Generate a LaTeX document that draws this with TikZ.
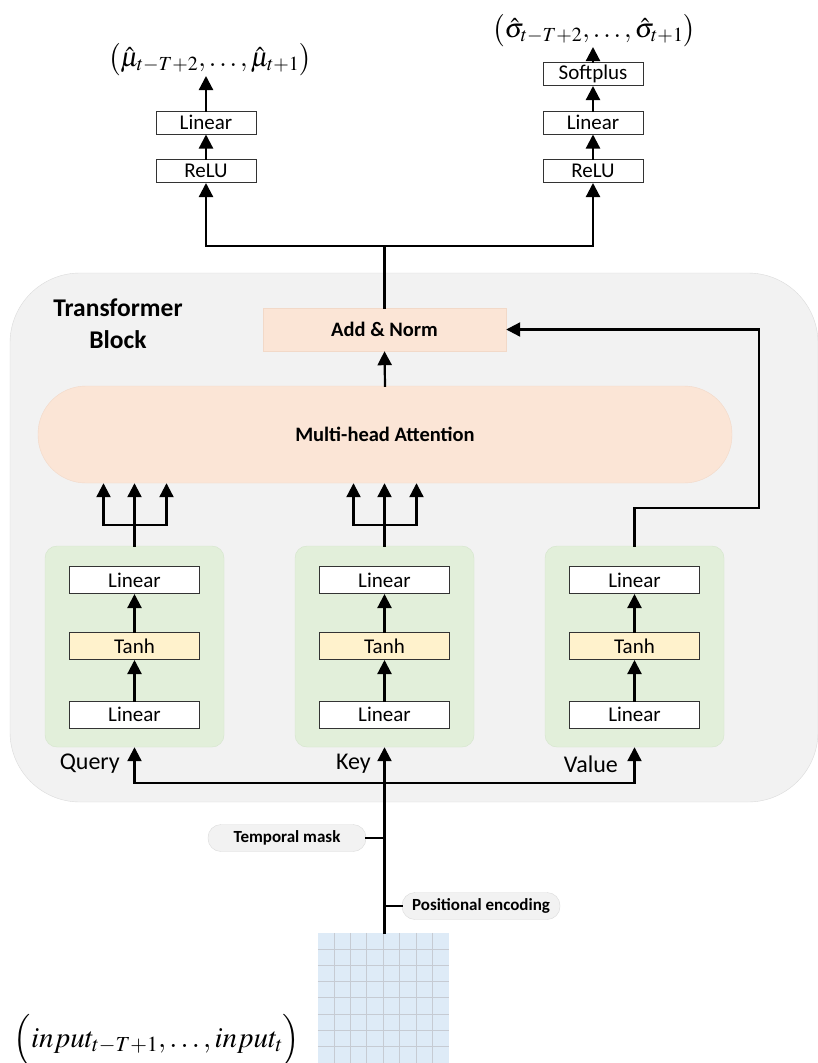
\documentclass[tikz,border=0pt]{standalone}
\usepackage{mathptmx}
\usepackage[no-math]{fontspec}
\setmainfont{Carlito}
\usepackage{xcolor}
\definecolor{peach}{HTML}{FBE5D6}
\definecolor{peachline}{HTML}{F2D9C8}
\definecolor{leaf}{HTML}{E2EFDA}
\definecolor{leafline}{HTML}{D4E5CB}
\definecolor{butter}{HTML}{FFF2CC}
\definecolor{cloud}{HTML}{F2F2F2}
\definecolor{cloudline}{HTML}{DADADA}
\definecolor{sky}{HTML}{DEEBF7}
\definecolor{skyline}{HTML}{C6CBD3}
\usetikzlibrary{arrows.meta,calc}
\tikzset{
    layer/.style = {
      draw = black!80,
      fill = white,
      line width = 1pt,
      minimum width = 130pt,
      minimum height = 27pt,
      inner sep = 0pt,
      font = \fontsize{21}{22}\selectfont
    },
    outlayer/.style = {
      layer,
      minimum width = 100pt,
      minimum height = 23pt
    },
    act/.style = {
      layer,
      fill = butter
    },
    branch/.style = {
      rounded corners = 12pt,
      fill = leaf,
      draw = leafline,
      minimum width = 179pt,
      minimum height = 201pt
    },
    block/.style = {
      rounded corners = 70pt,
      fill = cloud,
      draw = cloudline,
      minimum width = 808pt,
      minimum height = 529pt
    },
    attn/.style = {
      rounded corners = 48pt,
      fill = peach,
      draw = peachline,
      font = \bfseries\fontsize{20.5}{22}\selectfont
    },
    tag/.style = {
      rounded corners = 13pt,
      fill = cloud,
      draw = cloudline,
      minimum width = 158pt,
      minimum height = 27pt,
      font = \bfseries\fontsize{17}{18}\selectfont
    },
    side/.style = {
      font = \fontsize{24}{25}\selectfont,
      anchor = east,
      inner sep = 0pt
    },
    maths/.style = {
      font = \fontsize{27}{29}\selectfont,
      inner sep = 0pt
    },
    flow/.style = {
      line width = 2.2pt,
      line cap = rect
    },
    >={Triangle[width=14pt,length=14pt]}
}

\begin{document}
\begin{tikzpicture}[x=1pt, y=-1pt]
  \useasboundingbox (0,0) rectangle (818,1063);

  % transformer block background
  \node[block] (blk) at (414,537.5) {};
  \node[align=center, font=\bfseries\fontsize{25.5}{32}\selectfont] (blkname) at (118,324) {Transformer\\Block};

  % attention and residual
  \node[attn, minimum width=694pt, minimum height=97pt] (attn) at (385,434.5) {Multi-head Attention};
  \node[attn, rounded corners=0pt, minimum width=243pt, minimum height=43pt] (addnorm) at (384.5,329.5) {Add \& Norm};

  % query / key / value branches
  \foreach \name/\x in {q/134.5, k/384.5, v/634.5} {
    \node[branch] (\name box) at (\x,646.5) {};
    \node[layer]  (\name lin2) at (\x,580) {Linear};
    \node[act]    (\name tanh) at (\x,646) {Tanh};
    \node[layer]  (\name lin1) at (\x,714.5) {Linear};
    \draw[flow,->] (\name lin1) -- (\name tanh);
    \draw[flow,->] (\name tanh) -- (\name lin2);
  }
  \node[side] (qlab) at (120,764) {Query};
  \node[side] (klab) at (371,764) {Key};
  \node[side] (vlab) at (618,764) {Value};

  % output heads
  \node[outlayer] (murelu) at (206,171) {ReLU};
  \node[outlayer] (mulin)  at (206,122.5) {Linear};
  \node[outlayer] (sgrelu) at (593,171) {ReLU};
  \node[outlayer] (sglin)  at (593,122.5) {Linear};
  \node[outlayer] (sgsoft) at (593,74) {Softplus};
  \node[maths, anchor=south] (mu) at (210,76)
    {$\bigl(\hat{\mu}_{t-T+2},\ldots,\hat{\mu}_{t+1}\bigr)$};
  \node[maths, anchor=south] (sg) at (594,47)
    {$\bigl(\hat{\sigma}_{t-T+2},\ldots,\hat{\sigma}_{t+1}\bigr)$};

  % input sequence grid
  \node[fill=sky, minimum width=131pt, minimum height=130pt, inner sep=0pt] (seq) at (383.5,998) {};
  \foreach \i in {1,...,7} {
    \draw[skyline, line width=1pt] ($(seq.north west)+(\i*16.375,0)$) -- ($(seq.south west)+(\i*16.375,0)$);
    \draw[skyline, line width=1pt] ($(seq.north west)+(0,\i*16.25)$) -- ($(seq.north east)+(0,\i*16.25)$);
  }
  \node[maths, font=\fontsize{29}{31}\selectfont] (inp) at (157,1040) {$\Bigl(input_{t-T+1},\ldots,input_{t}\Bigr)$};

  % side inputs
  \node[tag] (tmask) at (287,838) {Temporal mask};
  \node[tag] (penc)  at (481,906) {Positional encoding};

  \coordinate (gtop)  at (384.5,933);
  \coordinate (split) at (384.5,783);
  \coordinate (fork)  at (384.5,246);
  \coordinate (vturn) at (759,508);

  % connectors
  \draw[flow] (tmask.east) -- (tmask.east -| gtop);
  \draw[flow] (penc.west) -- (penc.west -| gtop);
  \draw[flow,->] (gtop) -- (kbox.south);
  \draw[flow,->] (split) -| (qbox.south);
  \draw[flow,->] (split) -| (vbox.south);

  \foreach \name in {q,k} {
    \coordinate (\name fork) at ($(\name box.north)+(0,-21)$);
    \draw[flow] (\name box.north) -- (\name fork);
    \foreach \dx in {-31,0,32}
      \draw[flow,->] (\name fork) -| ($(\name fork |- attn.south)+(\dx,0)$);
  }
  \draw[flow,->] (vbox.north) |- (vturn) |- (addnorm.east);
  \draw[flow,->] (attn.north) -- (addnorm.south);

  \draw[flow] (addnorm.north) -- (fork);
  \draw[flow,->] (fork) -| (murelu.south);
  \draw[flow,->] (fork) -| (sgrelu.south);
  \draw[flow,->] (murelu) -- (mulin);
  \draw[flow,->] (mulin) -- (mu.south -| mulin);
  \draw[flow,->] (sgrelu) -- (sglin);
  \draw[flow,->] (sglin) -- (sgsoft);
  \draw[flow,->] (sgsoft) -- (sg.south -| sgsoft);
\end{tikzpicture}
\end{document}
